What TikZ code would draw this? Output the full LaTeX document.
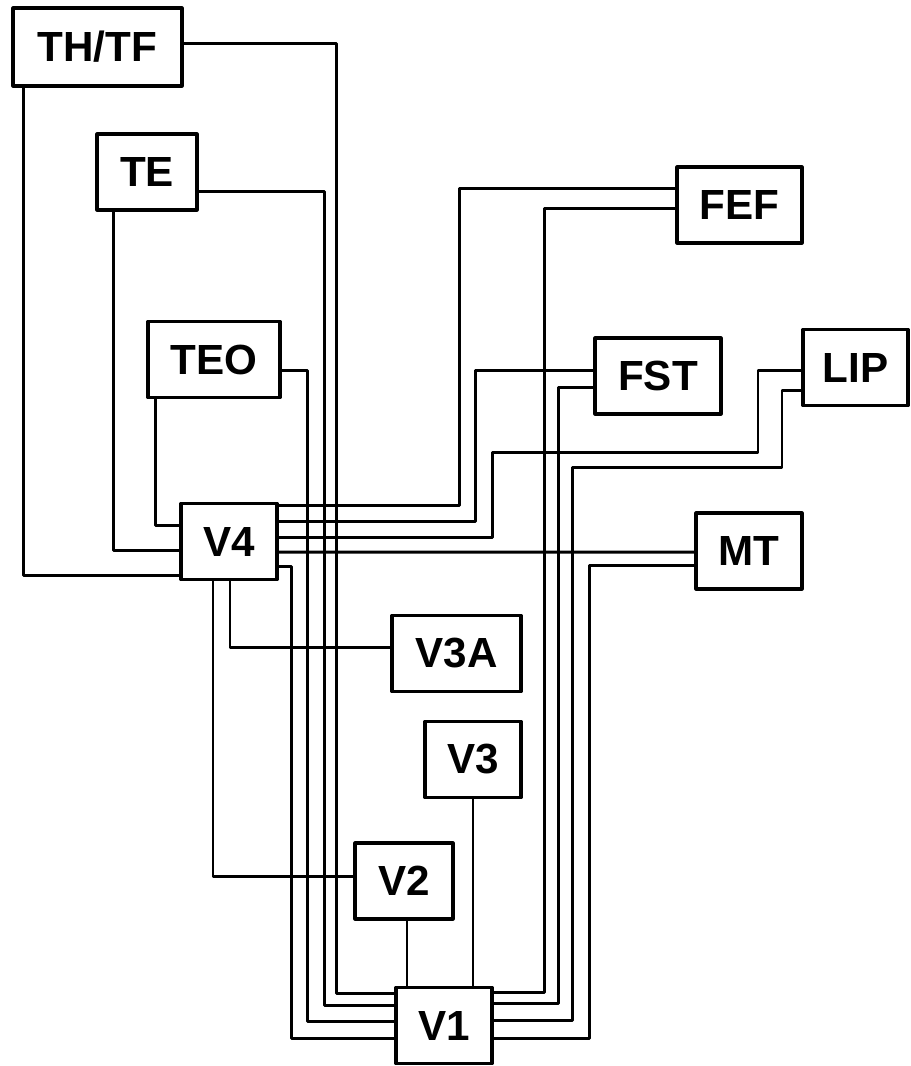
\documentclass[tikz,border=0pt]{standalone}
\usepackage{fontspec}
\setmainfont{Liberation Sans}
\usetikzlibrary{calc}
\tikzset{
  area/.style={draw, line width=1.8pt, minimum height=1.52cm, inner sep=0pt, font=\fontsize{24}{28}\selectfont\bfseries},
  link/.style={line width=1.7pt}
}
\begin{document}
\begin{tikzpicture}[x=0.02cm, y=-0.02cm, line join=round, line cap=round]
			\useasboundingbox (0,0) rectangle (911,1066);
			%%%%%%%%%%%%%%%%%%%%%%%%%%%%%%%%%
			\node[area, minimum width=3.38cm, minimum height=1.56cm] (thtf) at (97.5,47) {TH/TF};
			\node[area, minimum width=2.00cm] (te) at (147,172) {TE};
			\node[area, minimum width=2.64cm] (teo) at (214,359.5) {TEO};
			\node[area, minimum width=1.92cm] (v4) at (229,541.5) {V4};
			\node[area, minimum width=2.58cm] (v3a) at (456.5,653.5) {V3A};
			\node[area, minimum width=1.92cm] (v3) at (473,759.5) {V3};
			\node[area, minimum width=1.96cm] (v2) at (404,881) {V2};
			\node[area, minimum width=1.92cm] (v1) at (444,1025.5) {V1};
			\node[area, minimum width=2.50cm] (fef) at (739.5,205) {FEF};
			\node[area, minimum width=2.52cm] (fst) at (658,376) {FST};
			\node[area, minimum width=2.10cm] (lip) at (855.5,367.5) {LIP};
			\node[area, minimum width=2.12cm] (mt) at (749,551) {MT};
			\coordinate (v2out) at ($(v2.south)+(3,0)$);
			%%%%%%%%%%%%%%%%%%%%%%%%%%%%%%%%%
			% into V4 from the left and below
			\draw[link] ($(thtf.south west)+(12,0)$) |- ($(v4.west)+(0,33.5)$);
			\draw[link] ($(te.south west)+(18,0)$) |- ($(v4.west)+(0,8.5)$);
			\draw[link] ($(teo.south west)+(9,0)$) |- ($(v4.west)+(0,-16.5)$);
			\draw[link] ($(v4.south)+(1,0)$) |- ($(v3a.west)+(0,-6.5)$);
			\draw[link] ($(v4.south)+(-16,0)$) |- ($(v2.west)+(0,-5)$);
			%%%%%%%%%%%%%%%%%%%%%%%%%%%%%%%%%
			% into V1 from the left and above
			\draw[link] ($(thtf.east)+(0,-4)$) -| ($(v1.west)+(-58,-32.5)$) -- ($(v1.west)+(0,-32.5)$);
			\draw[link] ($(te.east)+(0,19)$) -| ($(v1.west)+(-70,-20.5)$) -- ($(v1.west)+(0,-20.5)$);
			\draw[link] ($(teo.east)+(0,10.5)$) -| ($(v1.west)+(-87,-4.5)$) -- ($(v1.west)+(0,-4.5)$);
			\draw[link] ($(v4.east)+(0,24.5)$) -| ($(v1.west)+(-103,12.5)$) -- ($(v1.west)+(0,12.5)$);
			\draw[link] (v2out) -- (v2out |- v1.north);
			\draw[link] (v3.south) -- (v3.south |- v1.north);
			%%%%%%%%%%%%%%%%%%%%%%%%%%%%%%%%%
			% into V4 from the right
			\draw[link] ($(fef.west)+(0,-17)$) -| ($(v4.east)+(181,-36)$) -- ($(v4.east)+(0,-36)$);
			\draw[link] ($(fst.west)+(0,-6)$) -| ($(v4.east)+(197,-20)$) -- ($(v4.east)+(0,-20)$);
			\draw[link] ($(lip.west)+(0,2.5)$) -| (758,452) -| ($(v4.east)+(214,-4.5)$) -- ($(v4.east)+(0,-4.5)$);
			\draw[link] ($(mt.west)+(0,1)$) -- ($(v4.east)+(0,10.5)$);
			%%%%%%%%%%%%%%%%%%%%%%%%%%%%%%%%%
			% into V1 from the right
			\draw[link] ($(fef.west)+(0,3)$) -| ($(v1.east)+(51,-33.5)$) -- ($(v1.east)+(0,-33.5)$);
			\draw[link] ($(fst.west)+(0,11)$) -| ($(v1.east)+(65,-22.5)$) -- ($(v1.east)+(0,-22.5)$);
			\draw[link] ($(lip.west)+(0,22.5)$) -| (782,467) -| ($(v1.east)+(79,-5.5)$) -- ($(v1.east)+(0,-5.5)$);
			\draw[link] ($(mt.west)+(0,14)$) -| ($(v1.east)+(96,12.5)$) -- ($(v1.east)+(0,12.5)$);
			%%%%%%%%%%%%%%%%%%%%%%%%%%%%%%%%%
\end{tikzpicture}
\end{document}
